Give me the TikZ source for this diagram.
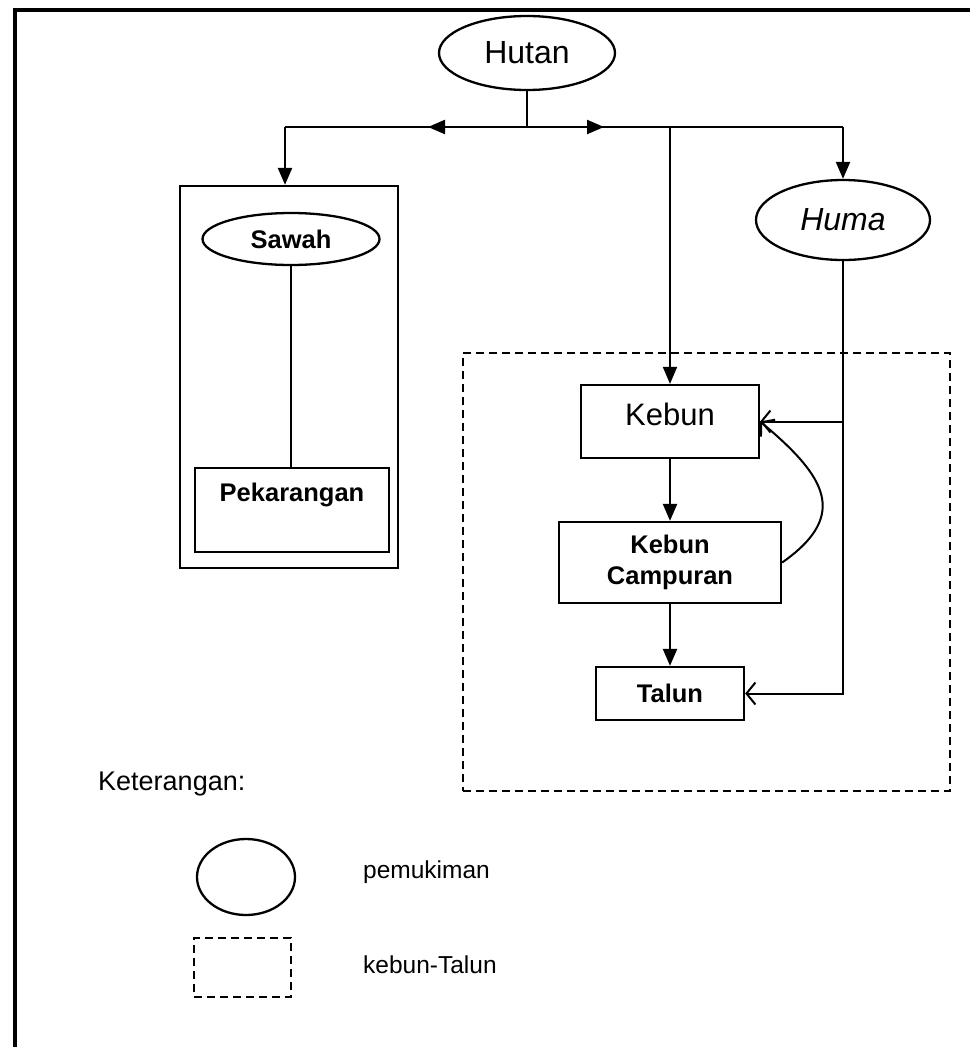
\documentclass[tikz,border=0pt]{standalone}
\usepackage{fontspec}
\setmainfont{Liberation Sans}
\usetikzlibrary{shapes.geometric, arrows.meta, positioning}
\tikzset{
    elips_mukim/.style={ellipse, draw=black, line width=2.3pt, inner sep=0pt, font=\fontsize{32}{36}\selectfont},
    kotak_lahan/.style={rectangle, draw=black, line width=2.3pt, inner sep=0pt, align=center, font=\fontsize{25.5}{31}\selectfont\bfseries},
    kotak_luar/.style={rectangle, draw=black, line width=2.3pt, inner sep=0pt},
    kotak_putus/.style={rectangle, draw=black, line width=2.8pt, dash pattern=on 8pt off 5pt, inner sep=0pt},
    teks_ket/.style={anchor=base west, inner sep=0pt, font=\fontsize{24.5}{28}\selectfont},
    garis/.style={draw, line width=2.3pt},
    panah/.style={draw, line width=2.3pt, -{Triangle[length=17pt, width=14pt]}},
    panah_buka/.style={draw, line width=2pt, -{Straight Barb[length=9pt, width=22pt]}}
}
\begin{document}
\begin{tikzpicture}[x=1pt, y=-1pt]
    \useasboundingbox (0,0) rectangle (970,1047);
    % bingkai luar
    \draw[line width=4pt] (15,1047) -- (15,10) -- (970,10);

    \node[elips_mukim, minimum width=176pt, minimum height=74pt] (hutan) at (527,53) {Hutan};
    \node[kotak_luar, minimum width=218pt, minimum height=382pt] (blok_sawah) at (289,377) {};
    \node[elips_mukim, minimum width=177pt, minimum height=52pt, font=\fontsize{25.5}{30}\selectfont\bfseries] (sawah) at (291,239) {Sawah};
    \node[kotak_lahan, minimum width=194pt, minimum height=84pt, text depth=36pt] (pekarangan) at (292,510) {Pekarangan};
    \node[elips_mukim, minimum width=174pt, minimum height=80pt, font=\fontsize{32}{36}\selectfont\itshape] (huma) at (843,220) {Huma};

    \node[kotak_putus, minimum width=487pt, minimum height=438pt] (blok_talun) at (706.5,572) {};
    \node[kotak_lahan, minimum width=178pt, minimum height=73pt, text depth=14pt, font=\fontsize{31}{36}\selectfont] (kebun) at (670,421.5) {Kebun};
    \node[kotak_lahan, minimum width=222pt, minimum height=81pt] (kebun_campuran) at (670,562.5) {Kebun\\Campuran};
    \node[kotak_lahan, minimum width=148pt, minimum height=53pt] (talun) at (670,693.5) {Talun};

    % cabang dari hutan
    \coordinate (simpang) at (527,127);
    \coordinate (simpang_kiri) at (285,127);
    \coordinate (simpang_kanan) at (843,127);
    \coordinate (ujung_kiri) at (428,127);
    \coordinate (ujung_kanan) at (604,127);
    \draw[garis, line width=1.8pt] (hutan.south) -- (simpang);
    \draw[garis] (simpang_kiri) -- (simpang_kanan);
    \draw[panah] (simpang) -- (ujung_kiri);
    \draw[panah] (simpang) -- (ujung_kanan);
    \draw[panah] (simpang_kiri) -- (simpang_kiri |- blok_sawah.north);
    \draw[panah, line width=1.8pt] (kebun.north |- simpang) -- (kebun.north);
    \draw[panah] (simpang_kanan) -- (huma.south |- huma.north);

    \draw[garis] (sawah.south) -- (sawah.south |- pekarangan.north);
    \draw[panah] (kebun.south) -- (kebun_campuran.north);
    \draw[panah] (kebun_campuran.south) -- (talun.north);
    \draw[panah_buka] (huma.south) -- (huma.south |- talun.east) -- (talun.east);
    \draw[panah_buka] (huma.south |- kebun.east) -- (kebun.east);
    \draw[panah_buka] (kebun_campuran.east) to[out=35, in=-40, looseness=1.5] (kebun.east);

    % keterangan
    \node[teks_ket, font=\fontsize{27}{30}\selectfont] (judul_ket) at (98,790) {Keterangan:};
    \node[ellipse, draw=black, line width=2.3pt, minimum width=98pt, minimum height=76pt, inner sep=0pt] (ket_elips) at (246,877) {};
    \node[teks_ket] (ket_mukim) at (363,878) {pemukiman};
    \node[kotak_putus, minimum width=97pt, minimum height=59pt] (ket_putus) at (242.5,967.5) {};
    \node[teks_ket] (ket_talun) at (363,973) {kebun-Talun};
\end{tikzpicture}
\end{document}
